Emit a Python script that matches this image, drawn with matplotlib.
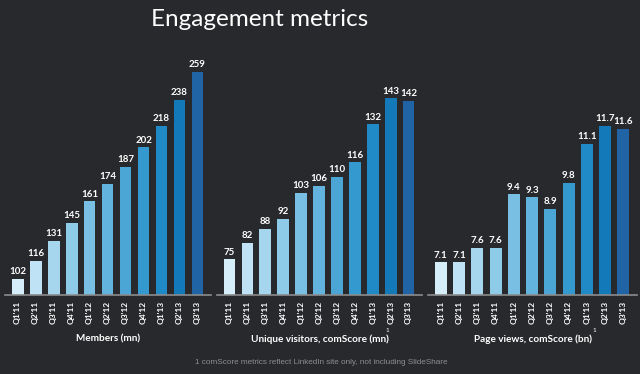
import matplotlib
matplotlib.use('Agg')
import matplotlib.pyplot as plt

plt.rcParams['font.family'] = ['Lato', 'DejaVu Sans']

# Data
quarters = ["Q1'11", "Q2'11", "Q3'11", "Q4'11", "Q1'12", "Q2'12",
            "Q3'12", "Q4'12", "Q1'13", "Q2'13", "Q3'13"]
members = [102, 116, 131, 145, 161, 174, 187, 202, 218, 238, 259]
visitors = [75, 82, 88, 92, 103, 106, 110, 116, 132, 143, 142]
pageviews = [7.1, 7.1, 7.6, 7.6, 9.4, 9.3, 8.9, 9.8, 11.1, 11.7, 11.6]

colors = ['#d6eef9', '#bfe3f4', '#a5d6ee', '#8ecbe9', '#78bfe3', '#62b3dd',
          '#4ba6d6', '#3399cf', '#1f8ac6', '#1479b9', '#2064a6']

bg = '#27292c'

fig = plt.figure(figsize=(6.4, 3.74), dpi=100, facecolor=bg)

# Panels: (left px, width px, ylim, values, label, value format, superscript x)
panels = [
    (5, 206, (90, 268.3), members, 'Members (mn)', '{:.0f}', None),
    (217, 205, (60, 159.2), visitors, 'Unique visitors, comScore (mn)', '{:.0f}', 387),
    (428, 209, (6, 13.94), pageviews, 'Page views, comScore (bn)', '{:.1f}', 594),
]

bottom = 1 - 295 / 374
height = 235 / 374

for left, width, ylim, vals, label, fmt, sup_x in panels:
    ax = fig.add_axes([left / 640, bottom, width / 640, height])
    ax.set_facecolor(bg)
    x = range(len(vals))
    ax.bar(x, vals, width=0.66, color=colors, bottom=0)
    ax.set_ylim(*ylim)
    ax.set_xlim(-0.7, len(vals) - 1 + 0.75)
    for xi, v in zip(x, vals):
        ax.text(xi, v + (ylim[1] - ylim[0]) * 0.012, fmt.format(v),
                ha='center', va='bottom', color='white', fontsize=7,
                fontweight='bold')
    for s in ['top', 'right', 'left']:
        ax.spines[s].set_visible(False)
    ax.spines['bottom'].set_color('#8a8c8e')
    ax.spines['bottom'].set_linewidth(1.2)
    ax.set_yticks([])
    ax.set_xticks(list(x))
    ax.set_xticklabels(quarters, rotation=90, color='white', fontsize=6,
                       fontweight='bold')
    ax.tick_params(axis='x', length=0, pad=4)
    ax.set_xlabel(label, color='white', fontsize=7.2, fontweight='bold',
                  labelpad=8)
    if sup_x is not None:
        fig.text(sup_x / 640, 1 - 331 / 374, '1', color='white', fontsize=4.5,
                 ha='center', va='center')

fig.text(260 / 640, 1 - 19 / 374, 'Engagement metrics', color='white',
         fontsize=17.5, ha='center', va='center', fontweight='normal')
fig.text(321 / 640, 1 - 363 / 374,
         '1 comScore metrics reflect LinkedIn site only, not including SlideShare',
         color='#8c8e90', fontsize=5.9, ha='center', va='center',
         family='Liberation Sans')

fig.savefig('out.png', dpi=100, facecolor=bg)
